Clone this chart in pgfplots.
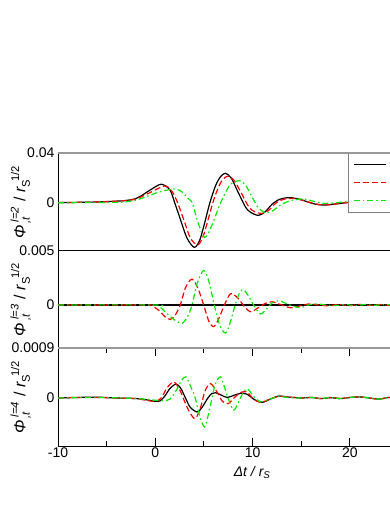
\documentclass[border=0pt]{standalone}
\usepackage{fontspec}
\setmainfont{Liberation Sans}
\usepackage{amsmath}
\usepackage{pgfplots}
\pgfplotsset{compat=1.18}

\definecolor{lred}{RGB}{255,0,0}
\definecolor{lgreen}{RGB}{0,235,0}

\newcommand{\lblfont}{\fontsize{14}{17}\selectfont}
\newcommand{\ylblfont}{\fontsize{16}{19}\selectfont}
\newcommand{\philabel}[1]{$\text{\itshape Φ}_{\,\text{\itshape ,t}}^{\;\text{\itshape l=#1}}\;\text{/ }\text{\itshape r}_{\text{S}}^{\;\;\text{1/2}}$}

\pgfplotsset{
  panel/.style={
    scale only axis, width=340.6pt, xmin=-10, xmax=25,
    anchor=south west,
    scaled y ticks=false, scaled x ticks=false,
    axis line style={line width=1pt},
    every tick label/.append style={font=\lblfont},
    ytick style={draw=none},
    xtick=\empty,
    every axis y label/.style={at={(axis description cs:-0.15,0.5)},rotate=90,anchor=north,font=\ylblfont},
  },
  bk/.style={black, line width=1.2pt, smooth, no markers},
  rd/.style={lred, line width=1.2pt, dash pattern=on 6pt off 3pt, smooth, no markers},
  gn/.style={lgreen, line width=1.2pt, dash pattern=on 6pt off 3pt on 1.5pt off 3pt, smooth, no markers},
}

\begin{document}
\begin{tikzpicture}
\path[use as bounding box] (0,0) rectangle (390pt,505pt);
\clip (0,0) rectangle (390pt,505pt);

% l=2
\begin{axis}[panel, name=p1, at={(58pt,254pt)}, height=98pt,
    ymin=-0.0384, ymax=0.04,
    ytick={0,0.04}, yticklabels={0,0.04},
    ylabel={\philabel{2}},
    legend style={at={(axis cs:19.8,0.04)}, anchor=north west, draw=gray, line width=0.8pt,
      fill=white, inner xsep=5pt, inner ysep=2.5pt, row sep=0pt,
      nodes={inner sep=0pt, minimum height=18pt}, font=\lblfont},
    legend cell align=left,
    legend image code/.code={\draw[#1] (0pt,0pt) -- (32pt,0pt);},
]
\addplot[bk] coordinates {(-10,0.0003) (-8,0.0005) (-6,0.0008) (-4,0.0015) (-3,0.002) (-2,0.0035)
 (-1.5,0.0055) (-0.5,0.0105) (0.6,0.0150) (1.5,0.0105) (2.0,0.0) (2.6,-0.0136) (3.25,-0.028)
 (4.0,-0.0355) (4.55,-0.030) (5.0,-0.018) (5.6,0.0) (6.2,0.014) (6.7,0.021) (7.2,0.0238)
 (7.8,0.020) (8.4,0.0104) (9.25,-0.003) (9.8,-0.0075) (10.6,-0.0099) (11.3,-0.007) (12.0,-0.001)
 (12.8,0.003) (13.8,0.0043) (14.8,0.003) (15.8,0.0005) (16.6,-0.0012) (17.5,-0.0016)
 (18.5,-0.0008) (19.9,0.0005) (21,0.0008) (22,0.0005) (23,0) (24,-0.0003) (25,-0.0002)};
\addplot[rd] coordinates {(-10,0.0003) (-6,0.0008) (-4,0.0014) (-3,0.002) (-2,0.003) (-1.5,0.0048)
 (-0.5,0.0085) (0.96,0.0136) (1.7,0.0095) (2.3,0.0) (3.0,-0.015) (3.6,-0.028) (4.35,-0.0336)
 (4.9,-0.027) (5.4,-0.014) (5.9,0.0) (6.4,0.011) (6.9,0.0185) (7.5,0.0216) (8.1,0.018)
 (8.8,0.0085) (9.6,-0.003) (10.2,-0.007) (11.0,-0.0083) (11.7,-0.0055) (12.4,0.0) (13.2,0.003)
 (14.0,0.0037) (15,0.0025) (16,0.0002) (16.8,-0.0012) (17.6,-0.0015) (18.6,-0.0007) (20,0.0005)
 (21,0.0008) (22,0.0004) (23,0) (24,-0.0003) (25,-0.0002)};
\addplot[gn] coordinates {(-10,0.0002) (-6,0.0004) (-3.6,0.0006) (-2.5,0.0015) (-1.5,0.0035)
 (0.5,0.009) (2.05,0.0112) (2.8,0.0085) (3.3,0.004) (3.8,0.0) (4.4,-0.016) (5.1,-0.0275)
 (5.8,-0.018) (6.7,0.0) (7.5,0.0125) (8.0,0.0165) (8.7,0.0178) (9.3,0.014) (10.0,0.004)
 (10.6,-0.004) (11.3,-0.0077) (12.0,-0.0065) (12.8,-0.002) (13.8,0.0017) (15.1,0.0032)
 (16.2,0.0015) (17.3,-0.0003) (18.5,0.0002) (19.7,0.001) (21,0.0008) (22,0.0004) (23,0)
 (24,-0.0002) (25,-0.0001)};
\legend{\hspace*{60pt},\hspace*{60pt},\hspace*{60pt}}
\end{axis}

% l=3
\begin{axis}[panel, name=p2, at={(58pt,157pt)}, height=97pt,
    ymin=-0.00398, ymax=0.005,
    ytick={0,0.005}, yticklabels={0,0.005},
    ylabel={\philabel{3}},
]
\addplot[bk] coordinates {(-10,0) (25,0)};
\addplot[rd] coordinates {(-10,0) (-1,0) (-0.3,-0.0001) (0.5,-0.0006) (1.0,-0.0011) (1.54,-0.00133)
 (2.0,-0.001) (2.57,0) (3.1,0.0016) (3.77,0.0024) (4.4,0.0015) (4.97,0) (5.5,-0.0015) (6.0,-0.002)
 (6.5,-0.0013) (7.1,0) (7.7,0.00102) (8.3,0.0008) (8.7,0.0004) (9.2,-0.0002) (9.8,-0.00062)
 (10.5,-0.0003) (11.2,0.0001) (12.0,0.0003) (13,0) (13.9,-0.00025) (14.8,-0.0001) (15.8,0.0001)
 (16.8,0) (17.8,-0.00008) (18.8,0.00005) (20,-0.00005) (21,0.00005) (22,-0.00004) (23,0.00004)
 (24,-0.00003) (25,0)};
\addplot[gn] coordinates {(-10,0) (0,0) (0.5,-0.0002) (1.2,-0.0008) (2.0,-0.0014) (2.74,-0.0017)
 (3.3,-0.0011) (3.77,0) (4.3,0.002) (4.97,0.0032) (5.5,0.0022) (6.06,0) (6.6,-0.0018) (7.2,-0.0026)
 (7.7,-0.0016) (8.2,0) (8.7,0.0012) (9.1,0.0014) (9.6,0.0008) (10.1,0) (10.8,-0.00083)
 (11.5,-0.0003) (12.0,0.0002) (12.7,0.0004) (13.8,0) (14.9,-0.00025) (15.7,0) (16.6,0.0001)
 (17.5,0) (18.5,-0.00006) (19.5,0.00004) (20.5,-0.00004) (21.5,0.00004) (22.5,-0.00003)
 (23.5,0.00003) (25,0)};
\end{axis}

% l=4
\begin{axis}[panel, name=p3, at={(58pt,59pt)}, height=98pt,
    ymin=-0.000864, ymax=0.0009,
    ytick={0,0.0009}, yticklabels={0,0.0009},
    ylabel={\philabel{4}},
    xtick={-10,0,10,20}, xticklabels={-10,0,10,20},
    minor xtick={-5,5,15},
    tick align=inside, major tick length=8pt, minor tick length=5pt,
    xtick style={line width=1pt, black},
    xticklabel style={yshift=2pt},
    xlabel={$\text{\itshape Δt / r}_{\text{\itshape S}}$},
    every axis x label/.style={at={(axis description cs:0.57,0)}, anchor=north, yshift=-17pt, font=\lblfont},
]
\addplot[bk] coordinates {(-10,0) (-8,0.00001) (-6,0.000015) (-4,0) (-2,-0.00001) (-1,-0.00003)
 (0,-0.00006) (0.5,-0.00005) (1.0,0.00004) (1.5,0.00017) (2.12,0.00025) (2.6,0.00018) (3.1,0)
 (3.6,-0.00017) (4.3,-0.00025) (4.8,-0.00017) (5.4,0) (5.8,0.00008) (6.2,0.000096) (6.8,0.00005)
 (7.4,0.00001) (8.1,0.00005) (8.8,0.000084) (9.4,0.00007) (10.2,-0.00003) (11.0,-0.000078)
 (11.8,-0.00002) (12.7,0.000036) (13.5,0.00002) (15,0) (16,0.00001) (17,-0.00001) (18,0.000005)
 (19,-0.00001) (20,0.00001) (21,0.00002) (22,0) (23,-0.00002) (24,0.00001) (25,0)};
\addplot[rd] coordinates {(-10,0) (-8,0.00001) (-6,0.00001) (-4,0) (-2,-0.00001) (-1,-0.00004)
 (0,-0.00006) (0.6,0) (1.2,0.00018) (1.88,0.00029) (2.5,0.00015) (3.1,-0.0001) (3.6,-0.00028)
 (4.1,-0.00037) (4.6,-0.0002) (5.1,0.00012) (5.65,0.00026) (6.3,0.00012) (6.9,-0.00006)
 (7.5,-0.0001) (8.2,0.00002) (8.8,0.0001) (9.4,0.00011) (10.1,-0.00002) (10.8,-0.000078)
 (11.8,-0.00002) (12.7,0.00003) (13.5,0.00002) (15,0) (16,0.00001) (17,-0.00001) (18,0.00001)
 (19,-0.00001) (20,0.00001) (21,0.00002) (22,0) (23,-0.00002) (24,0.00001) (25,0)};
\addplot[gn] coordinates {(-10,0) (-6,0.00001) (-2,-0.00001) (0,-0.00004) (0.8,-0.00005)
 (1.5,-0.00002) (2.2,0.00015) (2.7,0.00032) (3.15,0.00038) (3.6,0.00022) (4.1,0) (4.6,-0.00035)
 (5.07,-0.00052) (5.45,-0.0003) (5.83,0) (6.2,0.00027) (6.7,0.00038) (7.1,0.0002) (7.47,0)
 (8.05,-0.00022) (8.6,-0.00005) (9.1,0.00012) (9.5,0.00016) (10.1,0.00003) (10.8,-0.000066)
 (11.8,-0.00002) (12.7,0.00003) (13.5,0.00001) (15,0) (16,0.00001) (17,-0.00001) (18,0.00001)
 (19,-0.00001) (20,0.00001) (21,0.00002) (22,0) (23,-0.00002) (24,0.00001) (25,0)};
\end{axis}

\draw[gray!80, line width=1.2pt] (p1.north west) -- (p1.north east);
\draw[gray!80, line width=1.2pt] (p3.north west) -- (p3.north east);
\end{tikzpicture}
\end{document}
